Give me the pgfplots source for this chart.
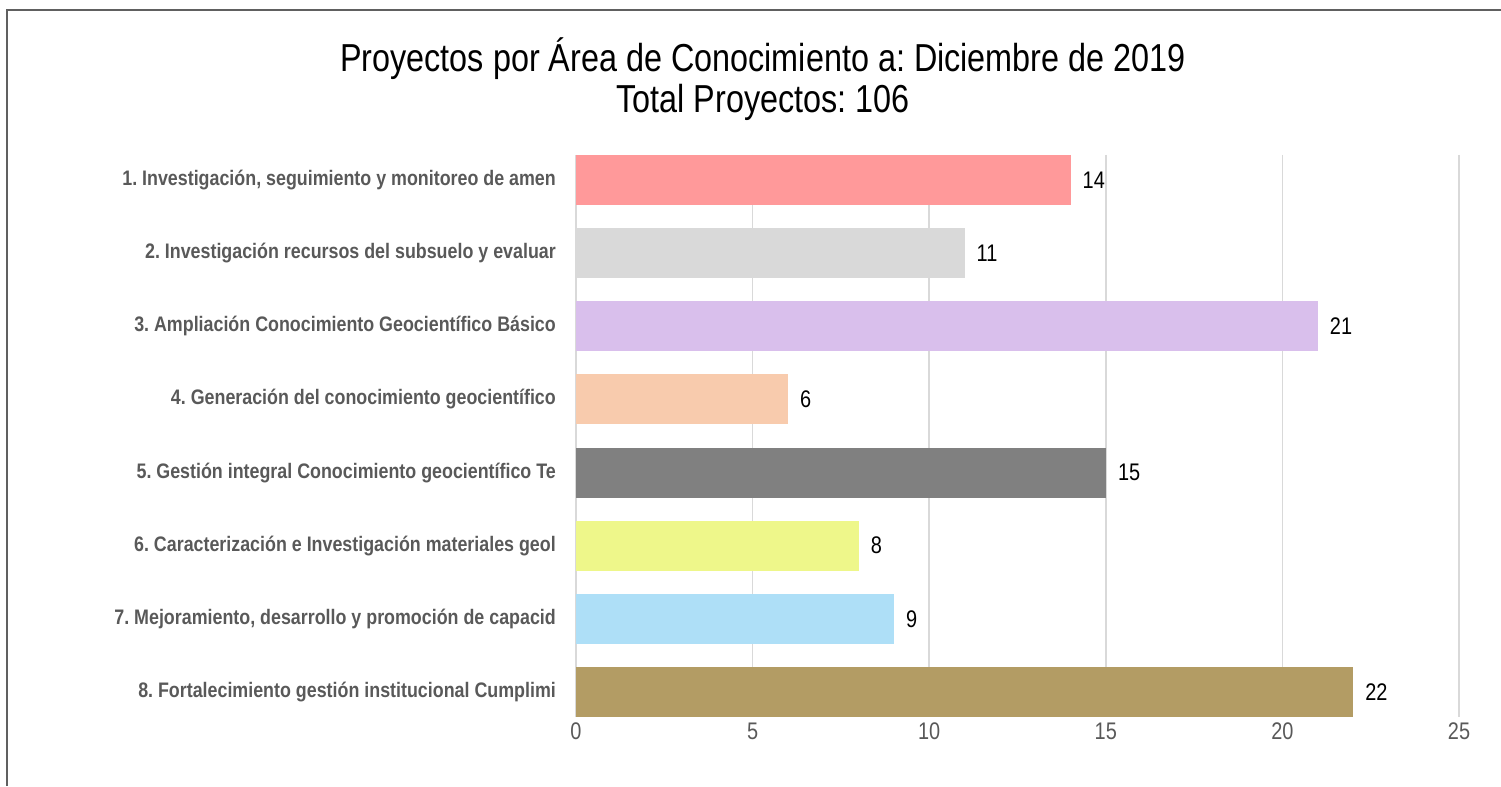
\documentclass[border=0pt]{standalone}
\usepackage{pgfplots}
\pgfplotsset{compat=1.18}
\usepackage{fontspec}
\setmainfont{Liberation Sans}
\newfontfamily\narrow[FakeStretch=0.83]{Liberation Sans}
\newfontfamily\narrowtitle[FakeStretch=0.83]{Liberation Sans}
\newfontfamily\narrowlbl[FakeStretch=0.85]{Liberation Sans}
\frenchspacing
\definecolor{c1}{HTML}{FF999A}
\definecolor{c2}{HTML}{D9D9D9}
\definecolor{c3}{HTML}{D9BFEC}
\definecolor{c4}{HTML}{F8CBAD}
\definecolor{c5}{HTML}{808080}
\definecolor{c6}{HTML}{EEF78A}
\definecolor{c7}{HTML}{AEDFF7}
\definecolor{c8}{HTML}{B39C64}
\definecolor{lbl}{HTML}{595959}
\definecolor{gridc}{HTML}{D9D9D9}
\definecolor{framec}{HTML}{606060}
\begin{document}
\begin{tikzpicture}[x=1bp,y=1bp]
\useasboundingbox (0,0) rectangle (1501,786);
\draw[framec, line width=2bp] (7,0) -- (7,776) -- (1501,776);
\node[anchor=base, inner sep=0, font=\narrowtitle\frenchspacing] at (763,714) {\fontsize{39bp}{41bp}\selectfont Proyectos por Área de Conocimiento a: Diciembre de 2019};
\node[anchor=base, inner sep=0, font=\narrowtitle\frenchspacing] at (763,673) {\fontsize{39bp}{41bp}\selectfont Total Proyectos: 106};
\begin{axis}[
  at={(576bp,69bp)}, anchor=south west,
  scale only axis, width=883bp, height=562bp,
  xmin=0, xmax=25, ymin=0.6575, ymax=8.3425,
  y dir=reverse,
  xbar, bar width=0.685, bar shift=0pt,
  axis line style={draw=none},
  major tick length=0pt,
  /pgf/number format/assume math mode=true,
  xtick={0,5,10,15,20,25},
  ytick={1,2,3,4,5,6,7,8},
  yticklabels={
    1. Investigación{,} seguimiento y monitoreo de amen,
    2. Investigación recursos del subsuelo y evaluar,
    3. Ampliación Conocimiento Geocientífico Básico,
    4. Generación del conocimiento geocientífico,
    5. Gestión integral Conocimiento geocientífico Te,
    6. Caracterización e Investigación materiales geol,
    7. Mejoramiento{,} desarrollo y promoción de capacid,
    8. Fortalecimiento gestión institucional Cumplimi},
  xmajorgrids, grid style={gridc, line width=1.5bp},
  x tick label style={font=\narrow\fontsize{24bp}{26bp}\selectfont, text=lbl, anchor=north, inner sep=0pt, yshift=-6bp},
  y tick label style={font=\narrowlbl\frenchspacing\bfseries\fontsize{21bp}{23bp}\selectfont, text=lbl, anchor=east, inner sep=0pt, xshift=-20bp},
  nodes near coords,
  every node near coord/.append style={font=\narrow\fontsize{24bp}{26bp}\selectfont, text=black, anchor=west, inner sep=0pt, xshift=12bp},
  clip=false,
]
\addplot[fill=c1, draw=none] coordinates {(14,1)};
\addplot[fill=c2, draw=none] coordinates {(11,2)};
\addplot[fill=c3, draw=none] coordinates {(21,3)};
\addplot[fill=c4, draw=none] coordinates {(6,4)};
\addplot[fill=c5, draw=none] coordinates {(15,5)};
\addplot[fill=c6, draw=none] coordinates {(8,6)};
\addplot[fill=c7, draw=none] coordinates {(9,7)};
\addplot[fill=c8, draw=none] coordinates {(22,8)};
\end{axis}
\end{tikzpicture}
\end{document}
